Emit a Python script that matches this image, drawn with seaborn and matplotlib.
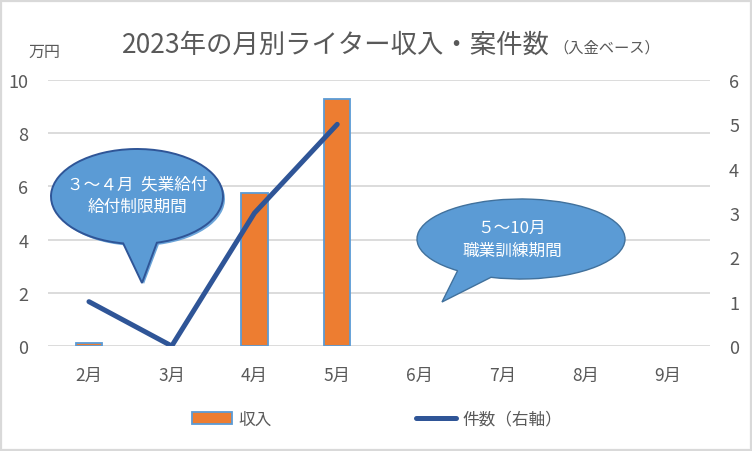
import numpy as np
import pandas as pd
import matplotlib
matplotlib.use("Agg")
import matplotlib.pyplot as plt
import seaborn as sns
from matplotlib.path import Path
from matplotlib.patches import PathPatch, Patch, Rectangle
from matplotlib.lines import Line2D

# ---- data ----
months = ["2月", "3月", "4月", "5月", "6月", "7月", "8月", "9月"]
income = [0.12, np.nan, 5.75, 9.3, np.nan, np.nan, np.nan, np.nan]   # 万円
counts = [1, 0, 3, 5]                                                # 件数 (2月〜5月)
left_ticks = [0, 2, 4, 6, 8, 10]
right_ticks = [0, 1, 2, 3, 4, 5, 6]
title_main = "2023年の月別ライター収入・案件数"
title_sub = "（入金ベース）"
bubble1_text = "３～４月  失業給付\n給付制限期間"
bubble2_text = "５～10月\n職業訓練期間"

sns.set_theme(style="white")
plt.rcParams["font.family"] = ["Noto Sans CJK JP", "DejaVu Sans"]

W, H = 752, 452
fig = plt.figure(figsize=(W / 100, H / 100), dpi=100)
fig.patch.set_facecolor("white")

ax_l, ax_r, ax_t, ax_b = 47.6, 709.6, 81, 347
ax = fig.add_axes([ax_l / W, 1 - ax_b / H, (ax_r - ax_l) / W, (ax_b - ax_t) / H])

GRAY = "#595959"
df = pd.DataFrame({"month": months, "income": income}).dropna()
sns.barplot(data=df, x="month", y="income", order=months, width=0.32,
            color="#ed7d31", edgecolor="#5b9bd5", linewidth=1.3,
            saturation=1, ax=ax, zorder=2)

ax2 = ax.twinx()
sns.lineplot(x=np.arange(len(counts)), y=counts, ax=ax2, color="#2f5597",
             linewidth=3.6, solid_capstyle="round", solid_joinstyle="round")

ax.set_xlim(-0.5, len(months) - 0.5)
ax.set_ylim(0, 10)
ax2.set_ylim(0, 6)
ax.set_yticks(left_ticks)
ax2.set_yticks(right_ticks)
ax.set_xlabel("")
ax.set_ylabel("")
ax2.set_ylabel("")
ax.grid(axis="y", color="#d9d9d9", linewidth=1.3)
ax.grid(axis="x", visible=False)
ax2.grid(False)
ax.set_axisbelow(True)
for a in (ax, ax2):
    for s in a.spines.values():
        s.set_visible(False)
ax.tick_params(axis="y", length=0, labelsize=13, colors=GRAY, pad=14)
ax.tick_params(axis="x", length=0, labelsize=12.5, colors=GRAY, pad=14)
ax2.tick_params(axis="y", length=0, labelsize=13, colors=GRAY, pad=14)

# ---- title ----
t1 = fig.text(122 / W, 1 - 53 / H, title_main, fontsize=19, color=GRAY,
              ha="left", va="baseline")
fig.canvas.draw()
bb = t1.get_window_extent()
fig.text((bb.x1 + 4) / W, 1 - 53 / H, title_sub, fontsize=11, color=GRAY,
         ha="left", va="baseline")
fig.text(44 / W, 1 - 52 / H, "万円", fontsize=11.5, color=GRAY,
         ha="center", va="center")

# ---- legend ----
handles = [Patch(facecolor="#ed7d31", edgecolor="#5b9bd5", linewidth=1.3),
           Line2D([], [], color="#2f5597", linewidth=3.6, solid_capstyle="round")]
leg = fig.legend(handles, ["収入", "件数（右軸）"], loc="center",
                 bbox_to_anchor=(377 / W, 1 - 420 / H), ncol=2, frameon=False,
                 fontsize=12, handlelength=2.4, handletextpad=0.35,
                 columnspacing=8.7, borderpad=0)
for tx in leg.get_texts():
    tx.set_color(GRAY)


# ---- speech bubbles (pixel coords, y down) ----
def balloon_path(cx, cy, rx, ry, base_l, base_r, tip):
    def ang(p):
        return np.degrees(np.arctan2(-(p[1] - cy) / ry, (p[0] - cx) / rx))
    a_r = ang(base_r)
    a_l = ang(base_l)
    if a_l < a_r:
        a_l += 360
    arc = Path.arc(a_r, a_l)
    verts = arc.vertices.copy()
    px = cx + verts[:, 0] * rx
    py = cy - verts[:, 1] * ry
    verts = np.column_stack([px / W, 1 - py / H])
    tipv = np.array([[tip[0] / W, 1 - tip[1] / H], verts[0]])
    allv = np.vstack([verts, tipv, verts[:1]])
    codes = list(arc.codes) + [Path.LINETO, Path.LINETO, Path.CLOSEPOLY]
    return Path(allv, codes)


# bubble 1
p_shadow = balloon_path(139, 200, 86, 47, (125, 247), (159, 246), (144, 285))
fig.add_artist(PathPatch(p_shadow, transform=fig.transFigure, facecolor="#5b9bd5",
                         edgecolor="none", zorder=9, alpha=0.9))
p1 = balloon_path(137, 197.5, 86, 47.5, (123, 245), (157, 244), (142, 284))
fig.add_artist(PathPatch(p1, transform=fig.transFigure, facecolor="#5b9bd5",
                         edgecolor="#2f5597", linewidth=1.4, zorder=10))
fig.text(137 / W, 1 - 196 / H, bubble1_text, fontsize=12, color="white",
         ha="center", va="center", linespacing=1.45, zorder=11)

# bubble 2
p2 = balloon_path(521, 240, 104, 40, (457, 272), (492, 277), (442, 303))
fig.add_artist(PathPatch(p2, transform=fig.transFigure, facecolor="#5b9bd5",
                         edgecolor="#41719c", linewidth=1.0, zorder=10))
fig.text(512 / W, 1 - 240 / H, bubble2_text, fontsize=12, color="white",
         ha="center", va="center", linespacing=1.45, zorder=11)

# ---- outer frame ----
fig.add_artist(Rectangle((1 / W, 1 / H), 1 - 2.5 / W, 1 - 2.5 / H,
                         transform=fig.transFigure, fill=False,
                         edgecolor="#d9d9d9", linewidth=1.6, zorder=20))

fig.savefig("out.png", dpi=100)
